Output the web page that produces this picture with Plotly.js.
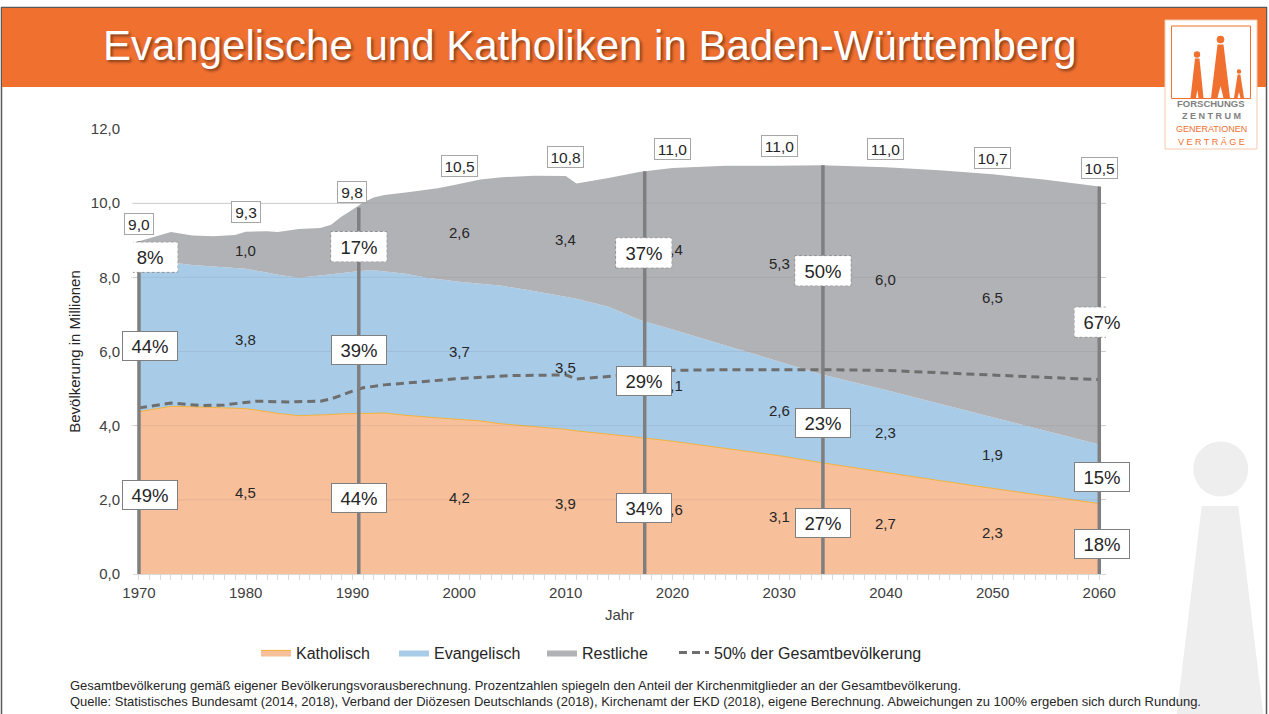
<!DOCTYPE html>
<html>
<head>
<meta charset="utf-8">
<script src="https://cdn.plot.ly/plotly-3.0.1.min.js"></script>
<style>
html,body{margin:0;padding:0;background:#fff;}
#chart{width:1269px;height:714px;}
</style>
</head>
<body>
<div id="chart"></div>
<script>
// ---------------- DATA ----------------
const years = [1970,1972,1973,1975,1977,1979,1980,1982,1983,1985,1987,1988,1989,1990,1991,1992,1993,1995,1997,1998,2000,2002,2004,2007,2010,2011,2014,2017,2020,2025,2030,2034,2040,2045,2050,2055,2060];
const katholisch = [4.38,4.47,4.52,4.51,4.49,4.48,4.46,4.38,4.33,4.27,4.28,4.30,4.32,4.33,4.34,4.35,4.34,4.28,4.22,4.21,4.17,4.13,4.05,3.98,3.90,3.86,3.78,3.68,3.58,3.39,3.19,3.00,2.73,2.52,2.31,2.10,1.90];
const evangelisch = [4.01,3.96,3.88,3.82,3.80,3.78,3.77,3.75,3.74,3.72,3.78,3.79,3.80,3.83,3.84,3.84,3.82,3.82,3.77,3.74,3.71,3.70,3.72,3.65,3.57,3.56,3.43,3.16,3.01,2.77,2.53,2.38,2.23,2.07,1.91,1.75,1.59];
const restliche = [0.58,0.72,0.82,0.80,0.82,0.88,1.00,1.11,1.15,1.31,1.27,1.33,1.52,1.66,1.84,1.96,2.06,2.19,2.37,2.45,2.64,2.81,2.93,3.11,3.26,3.11,3.47,4.01,4.36,4.85,5.29,5.64,6.01,6.30,6.56,6.78,6.96];

const halfYears = [1970,1973,1976,1978,1981,1984,1987,1988,1990,1991,1993,1997,2000,2005,2010,2011,2015,2017,2020,2025,2030,2034,2040,2045,2050,2055,2060];
const halfTotal = [4.48,4.61,4.54,4.56,4.66,4.64,4.66,4.72,4.93,5.02,5.10,5.20,5.27,5.35,5.37,5.26,5.35,5.42,5.49,5.51,5.52,5.51,5.49,5.43,5.38,5.31,5.24];

const milestoneYears = [1970,1990.6,2017.4,2034.1,2060];
const milestoneTotals = [8.97,9.88,10.86,11.02,10.45];
const pctRest = [8,17,37,50,67];
const pctEv = [44,39,29,23,15];
const pctKath = [49,44,34,27,18];

const decadeYears = [1970,1980,1990,2000,2010,2020,2030,2040,2050,2060];
const decadeTotals = [9.0,9.3,9.8,10.5,10.8,11.0,11.0,11.0,10.7,10.5];

const labelYears = [1980,2000,2010,2020,2030,2040,2050];
const katLabels = [4.5,4.2,3.9,3.6,3.1,2.7,2.3];
const evLabels = [3.8,3.7,3.5,3.1,2.6,2.3,1.9];
const restLabels = [1.0,2.6,3.4,4.4,5.3,6.0,6.5];

const yTicks = [0,2,4,6,8,10,12];

// ---------------- PLACEMENT (label positions, not data) ----------------
const pctBoxX = [1971.0,1990.6,2017.3,2034.1,2060.3];
const pctRestY = [8.54,8.83,8.66,8.18,6.79];
const pctEvY = [6.16,6.05,5.20,4.08,2.62];
const pctKathY = [2.14,2.04,1.77,1.38,0.80];
const totalLabelY = [9.44,9.76,10.31,11.0,11.24,11.45,11.53,11.45,11.22,10.95];
const katLabelY = [2.19,2.07,1.90,1.74,1.56,1.36,1.13];
const evLabelY = [6.32,6.0,5.58,5.08,4.41,3.82,3.22];
const restLabelY = [8.72,9.20,9.02,8.75,8.36,7.94,7.46];

// ---------------- helpers ----------------
const PL=133, PT=129, PW=973, PH=445;
const px = x => (x-PL)/PW;
const py = y => (PT+PH-y)/PH;
const fmt = v => v.toFixed(1).replace('.', ',');
const FONT = 'Liberation Sans, Arial, sans-serif';
const ORANGE = '#f07030';

function rectPx(x0,y0,x1,y1,style){
  return Object.assign({type:'rect',xref:'paper',yref:'paper',x0:px(x0),x1:px(x1),y0:py(y1),y1:py(y0),layer:'above'},style);
}
function pathPx(pts,style){
  const d = 'M' + pts.map(p=>px(p[0]).toFixed(5)+','+py(p[1]).toFixed(5)).join('L') + 'Z';
  return Object.assign({type:'path',xref:'paper',yref:'paper',path:d,layer:'above'},style);
}
function circlePx(cx,cy,r,style){
  return Object.assign({type:'circle',xref:'paper',yref:'paper',x0:px(cx-r),x1:px(cx+r),y0:py(cy+r),y1:py(cy-r),layer:'above'},style);
}
function annPx(x,y,text,font,extra){
  return Object.assign({xref:'paper',yref:'paper',x:px(x),y:py(y),text:text,showarrow:false,font:Object.assign({family:FONT},font)},extra||{});
}

// ---------------- traces ----------------
const traces = [
  {x:years,y:katholisch,name:'Katholisch',type:'scatter',mode:'lines',stackgroup:'one',legendwidth:93,
   line:{color:'#f3b13a',width:1},fillcolor:'#f8bf9b'},
  {x:years,y:evangelisch,name:'Evangelisch',type:'scatter',mode:'lines',stackgroup:'one',legendwidth:103,
   line:{color:'#a8cbe8',width:0},fillcolor:'#a8cbe8'},
  {x:years,y:restliche,name:'Restliche',type:'scatter',mode:'lines',stackgroup:'one',legendwidth:87,
   line:{color:'#b1b2b6',width:0},fillcolor:'#b1b2b6'},
  {x:halfYears,y:halfTotal,name:'50% der Gesamtbevölkerung',type:'scatter',mode:'lines',legendwidth:220,
   line:{color:'#6e6e6e',width:3,dash:'8px,5px'}}
];

// ---------------- shapes ----------------
const shapes = [];
// watermark figure (bottom right)
shapes.push(circlePx(1220.7,469,27.5,{fillcolor:'#eeeeee',line:{width:0},layer:'below'}));
shapes.push(pathPx([[1201.7,506],[1238.3,506],[1263.3,714],[1176.7,714]],{fillcolor:'#eeeeee',line:{width:0},layer:'below'}));
// page frame + header banner
shapes.push(rectPx(1.5,7.5,1266.5,720,{line:{color:'#5a5a5a',width:1.5},fillcolor:'rgba(0,0,0,0)',layer:'below'}));
shapes.push(rectPx(2,8,1266,87,{line:{width:0},fillcolor:ORANGE,layer:'below'}));
// logo
shapes.push(rectPx(1165,20,1257,149,{line:{color:'#f6c9ad',width:1},fillcolor:'#ffffff'}));
shapes.push(rectPx(1171.5,26,1250.5,98.5,{line:{color:ORANGE,width:1},fillcolor:'rgba(0,0,0,0)'}));
shapes.push(circlePx(1197,54.5,3.2,{fillcolor:ORANGE,line:{width:0}}));
shapes.push(pathPx([[1195,58.5],[1199.5,58.5],[1203.5,98],[1198.5,98],[1197.3,90],[1196,98],[1190.5,98]],{fillcolor:ORANGE,line:{width:0}}));
shapes.push(circlePx(1220.5,39.5,3.8,{fillcolor:ORANGE,line:{width:0}}));
shapes.push(pathPx([[1217.5,44.5],[1223.5,44.5],[1230,98],[1223.5,98],[1220.5,86],[1217.5,98],[1211,98]],{fillcolor:ORANGE,line:{width:0}}));
shapes.push(circlePx(1239,71.5,2.2,{fillcolor:ORANGE,line:{width:0}}));
shapes.push(pathPx([[1237.6,74.5],[1240.4,74.5],[1244,98],[1240.5,98],[1239,92],[1237.5,98],[1234,98]],{fillcolor:ORANGE,line:{width:0}}));
// faint gridlines above the areas
yTicks.slice(1,6).forEach(v=>{
  shapes.push({type:'line',xref:'paper',yref:'y',x0:-0.002,x1:1,y0:v,y1:v,layer:'above',line:{color:'rgba(110,110,110,0.13)',width:1}});
});
// milestone vertical lines
milestoneYears.forEach((yr,i)=>{
  shapes.push({type:'line',xref:'x',yref:'y',x0:yr,x1:yr,y0:0,y1:milestoneTotals[i],layer:'above',line:{color:'#7f7f7f',width:3.5}});
});
// dashed frames for "Restliche" percentage boxes
pctBoxX.forEach((bx,i)=>{
  shapes.push({type:'rect',xref:'x',yref:'y',xsizemode:'pixel',ysizemode:'pixel',xanchor:bx,yanchor:pctRestY[i],
    x0:-28,x1:28,y0:-15,y1:15,layer:'above',fillcolor:'#ffffff',line:{color:'#8c8c8c',width:1,dash:'3px,2px'}});
});

// ---------------- annotations ----------------
const annotations = [];
// title
annotations.push(annPx(590,45,'Evangelische und Katholiken in Baden-Württemberg',
  {size:42,color:'#ffffff',shadow:'2px 2px 3px rgba(0,0,0,0.45)'},{xanchor:'center',yanchor:'middle'}));
// logo text
annotations.push(annPx(1211,103,'FORSCHUNGS',{size:9.5,color:'#7f7f7f',weight:700},{xanchor:'center',yanchor:'middle'}));
annotations.push(annPx(1211,116,'Z E N T R U M',{size:9,color:'#7f7f7f',weight:700},{xanchor:'center',yanchor:'middle'}));
annotations.push(annPx(1211,129,'GENERATIONEN',{size:9,color:ORANGE},{xanchor:'center',yanchor:'middle'}));
annotations.push(annPx(1211,142,'V E R T R Ä G E',{size:9,color:ORANGE},{xanchor:'center',yanchor:'middle'}));

// segment value labels
const segFont = {family:FONT,size:15,color:'#262626'};
labelYears.forEach((yr,i)=>{
  annotations.push({x:yr,y:katLabelY[i],xref:'x',yref:'y',text:fmt(katLabels[i]),showarrow:false,font:segFont});
  annotations.push({x:yr,y:evLabelY[i],xref:'x',yref:'y',text:fmt(evLabels[i]),showarrow:false,font:segFont});
  annotations.push({x:yr,y:restLabelY[i],xref:'x',yref:'y',text:fmt(restLabels[i]),showarrow:false,font:segFont});
});
// total labels in small boxes
decadeYears.forEach((yr,i)=>{
  const t = fmt(decadeTotals[i]);
  annotations.push({x:yr,y:totalLabelY[i],xref:'x',yref:'y',text:t,showarrow:false,
    font:{family:FONT,size:15.5,color:'#262626'},bgcolor:'#ffffff',bordercolor:'#a6a6a6',borderwidth:1,borderpad:2,
    width:t.length>3?31:24,height:16});
});
// percentage boxes
const pctFont = {family:FONT,size:18.5,color:'#262626'};
pctBoxX.forEach((bx,i)=>{
  annotations.push({x:bx,y:pctRestY[i],xref:'x',yref:'y',text:pctRest[i]+'%',showarrow:false,font:pctFont,
    bgcolor:'#ffffff',bordercolor:'rgba(0,0,0,0)',borderwidth:1,borderpad:1,width:52,height:26});
  annotations.push({x:bx,y:pctEvY[i],xref:'x',yref:'y',text:pctEv[i]+'%',showarrow:false,font:pctFont,
    bgcolor:'#ffffff',bordercolor:'#7f7f7f',borderwidth:1,borderpad:1,width:52,height:26});
  annotations.push({x:bx,y:pctKathY[i],xref:'x',yref:'y',text:pctKath[i]+'%',showarrow:false,font:pctFont,
    bgcolor:'#ffffff',bordercolor:'#7f7f7f',borderwidth:1,borderpad:1,width:52,height:26});
});
// footnotes
annotations.push(annPx(68,685,'Gesamtbevölkerung gemäß eigener Bevölkerungsvorausberechnung. Prozentzahlen spiegeln den Anteil der Kirchenmitglieder an der Gesamtbevölkerung.',
  {size:13,color:'#262626'},{xanchor:'left',yanchor:'middle'}));
annotations.push(annPx(68,701,'Quelle: Statistisches Bundesamt (2014, 2018), Verband der Diözesen Deutschlands (2018), Kirchenamt der EKD (2018), eigene Berechnung. Abweichungen zu 100% ergeben sich durch Rundung.',
  {size:13,color:'#262626'},{xanchor:'left',yanchor:'middle'}));

// ---------------- layout ----------------
const layout = {
  width:1269, height:714,
  margin:{l:PL,r:1269-PL-PW,t:PT,b:714-PT-PH,pad:0},
  paper_bgcolor:'#ffffff', plot_bgcolor:'rgba(0,0,0,0)',
  separators:',.',
  font:{family:FONT,size:15,color:'#404040'},
  hovermode:false,
  showlegend:true,
  legend:{orientation:'h',x:px(256),xanchor:'left',y:py(652.5),yanchor:'middle',
    font:{family:FONT,size:16,color:'#262626'},traceorder:'normal',bgcolor:'rgba(0,0,0,0)'},
  xaxis:{range:[1969.44,2060.63],tickmode:'array',tickvals:decadeYears,ticktext:decadeYears.map(String),
    ticks:'outside',ticklen:5,tickcolor:'#d9d9d9',showline:true,linecolor:'#d9d9d9',linewidth:1,
    showgrid:false,zeroline:false,tickfont:{family:FONT,size:15,color:'#404040'},
    minor:{dtick:1,tick0:1970,ticks:'outside',ticklen:5,tickcolor:'#d9d9d9',showgrid:false},
    title:{text:'Jahr',font:{family:FONT,size:15,color:'#404040'},standoff:9},automargin:false,fixedrange:true},
  yaxis:{range:[0,12],tickmode:'array',tickvals:yTicks,ticktext:yTicks.map(v=>fmt(v)),
    showgrid:true,gridcolor:'#d9d9d9',gridwidth:1,zeroline:false,showline:false,ticks:'',
    ticklabelstandoff:12,tickfont:{family:FONT,size:15,color:'#404040'},
    title:{text:'Bevölkerung in Millionen',font:{family:FONT,size:15,color:'#262626'},standoff:6},
    automargin:false,fixedrange:true},
  shapes:shapes,
  annotations:annotations
};

Plotly.newPlot('chart',traces,layout,{displayModeBar:false,staticPlot:true});
</script>
</body>
</html>
